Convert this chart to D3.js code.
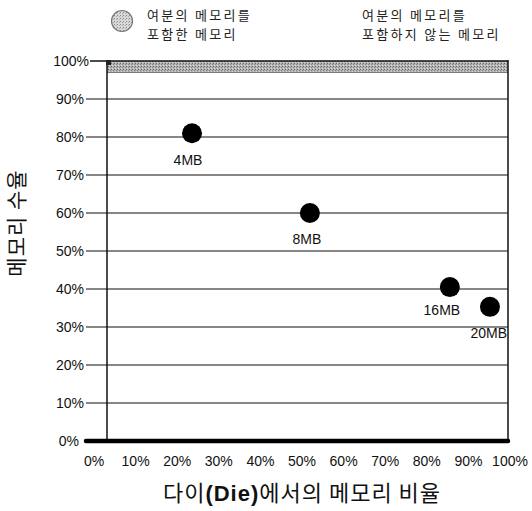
<!DOCTYPE html>
<html><head><meta charset="utf-8">
<script src="https://cdn.jsdelivr.net/npm/d3@7"></script>
<style>body{margin:0;background:#fff}svg{display:block}</style>
</head><body>
<svg id="c" width="532" height="511"></svg>
<script>
const labels = ["4MB", "8MB", "16MB", "20MB"];
const dieShare = [21.2, 50.6, 85.5, 95.5];
const yieldPct = [81, 60, 40.5, 35.3];
const yTicks = [0,10,20,30,40,50,60,70,80,90,100];
const xTicks = [0,10,20,30,40,50,60,70,80,90,100];
const bandRange = [97, 100];
const legendLabels = [["여분의 메모리를","포함한 메모리"],["여분의 메모리를","포함하지 않는 메모리"]];
const xTitle = ["다이", "(Die)", "에서의 메모리 비율"];
const yTitle = "메모리 수율";

const svg = d3.select("#c");
const font = "'Liberation Sans', Arial, sans-serif";
const kfont = "'Noto Sans CJK KR', sans-serif";

const defs = svg.append("defs");
const pat = defs.append("pattern").attr("id","dither").attr("width",3).attr("height",3).attr("patternUnits","userSpaceOnUse");
pat.append("rect").attr("width",3).attr("height",3).attr("fill","#b4b4b4");
pat.append("rect").attr("x",0).attr("y",0).attr("width",1).attr("height",1).attr("fill","#666");
pat.append("rect").attr("x",2).attr("y",1).attr("width",1).attr("height",1).attr("fill","#858585");
pat.append("rect").attr("x",1).attr("y",2).attr("width",1).attr("height",1).attr("fill","#dcdcdc");
const pat2 = defs.append("pattern").attr("id","dither2").attr("width",3).attr("height",3).attr("patternUnits","userSpaceOnUse");
pat2.append("rect").attr("width",3).attr("height",3).attr("fill","#d8d8d8");
pat2.append("rect").attr("x",0).attr("y",0).attr("width",1).attr("height",1).attr("fill","#888");
pat2.append("rect").attr("x",2).attr("y",1).attr("width",1).attr("height",1).attr("fill","#aaa");

const x = d3.scaleLinear().domain([0,100]).range([107,508]);
const xLab = d3.scaleLinear().domain([0,100]).range([94,510]);
const y = d3.scaleLinear().domain([0,100]).range([441,61]);

// band
svg.append("rect").attr("x",x(0)).attr("y",y(bandRange[1])).attr("width",x(100)-x(0))
  .attr("height",y(bandRange[0])-y(bandRange[1])).attr("fill","url(#dither)");

// gridlines
svg.append("g").selectAll("line").data(yTicks.filter(d=>d>0)).join("line")
  .attr("x1",d=>d===100?90:86).attr("x2",x(100)).attr("y1",d=>y(d)).attr("y2",d=>y(d))
  .attr("stroke","#111").attr("stroke-width",d=>d===100?1.5:1.2);
// band bottom line
svg.append("line").attr("x1",x(0)).attr("x2",x(100)).attr("y1",y(bandRange[0])).attr("y2",y(bandRange[0]))
  .attr("stroke","#555").attr("stroke-width",0.8);
// verticals
svg.append("line").attr("x1",x(0)).attr("x2",x(0)).attr("y1",y(100)).attr("y2",y(0)).attr("stroke","#111").attr("stroke-width",1.5);
svg.append("line").attr("x1",x(100)).attr("x2",x(100)).attr("y1",y(100)-1).attr("y2",y(0)).attr("stroke","#111").attr("stroke-width",1.5);
// thick baseline
svg.append("line").attr("x1",86).attr("x2",x(100)).attr("y1",y(0)).attr("y2",y(0))
  .attr("stroke","#000").attr("stroke-width",4.5).attr("stroke-linecap","round");
// corner square
svg.append("rect").attr("x",x(0)-1).attr("y",y(100)-1).attr("width",5).attr("height",5).attr("fill","#222");

// y tick labels
svg.append("g").selectAll("text").data(yTicks).join("text")
  .attr("x",d=>d===100?89:(d===0?79:84)).attr("y",d=>y(d)).attr("dy","0.35em").attr("text-anchor","end")
  .attr("font-family",font).attr("font-size",14).attr("fill","#111").text(d=>d+"%");
// x tick labels
svg.append("g").selectAll("text").data(xTicks).join("text")
  .attr("x",d=>xLab(d)).attr("y",466).attr("text-anchor","middle")
  .attr("font-family",font).attr("font-size",14).attr("fill","#111").text(d=>d+"%");

// points
const pts = labels.map((l,i)=>({l, x:dieShare[i], y:yieldPct[i]}));
svg.append("g").selectAll("circle").data(pts).join("circle")
  .attr("cx",d=>x(d.x)).attr("cy",d=>y(d.y)).attr("r",10).attr("fill","#000");
const lblOff = [[-4,27],[-3,26],[-8,23],[-3,26]];
svg.append("g").selectAll("text").data(pts).join("text")
  .attr("x",(d,i)=>i===3?x(100)-1:x(d.x)+lblOff[i][0]).attr("y",(d,i)=>y(d.y)+lblOff[i][1]+5)
  .attr("text-anchor",(d,i)=>i===3?"end":"middle")
  .attr("font-family",font).attr("font-size",14).attr("fill","#111").text(d=>d.l);

// legend
svg.append("circle").attr("cx",122).attr("cy",21).attr("r",10.5).attr("fill","url(#dither2)").attr("stroke","#777").attr("stroke-width",1.2);
const lx = [147, 362];
legendLabels.forEach((lines,i)=>{
  lines.forEach((t,j)=>{
    svg.append("text").attr("x",lx[i]).attr("y",20+j*19).attr("font-family",kfont).attr("font-size",13)
      .attr("letter-spacing",2.3).attr("fill","#222").text(t);
  });
});

// axis titles
const xt = svg.append("text").attr("x",302).attr("y",501).attr("text-anchor","middle")
  .attr("font-family",kfont).attr("font-size",22).attr("letter-spacing",1).attr("fill","#111");
xTitle.forEach((t,i)=>xt.append("tspan").attr("font-weight",i===1?"bold":"normal")
  .attr("font-family",i===1?font:kfont).text(t));
svg.append("text").attr("transform","translate(24,223) rotate(-90)").attr("text-anchor","middle")
  .attr("font-family",kfont).attr("font-size",21).attr("letter-spacing",1).attr("fill","#111").text(yTitle);
</script>
</body></html>
